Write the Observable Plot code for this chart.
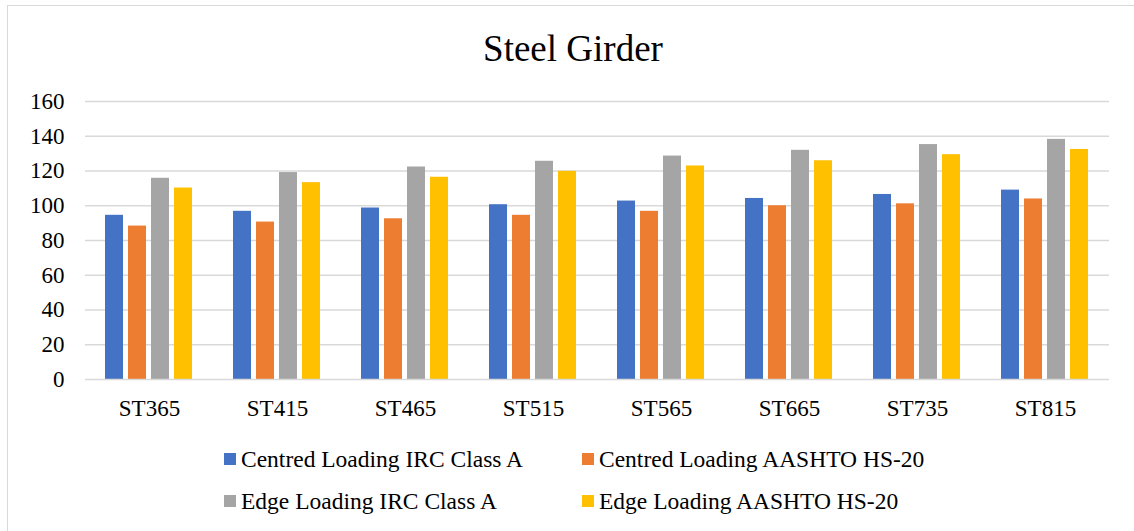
<!DOCTYPE html>
<html>
<head>
<meta charset="utf-8">
<script src="https://cdn.jsdelivr.net/npm/d3@7"></script>
<script src="https://cdn.jsdelivr.net/npm/@observablehq/plot@0.6"></script>
<style>
  html, body { margin: 0; padding: 0; background: #fff; width: 1134px; height: 531px; overflow: hidden; }
  body { position: relative; font-family: "Liberation Serif", "Times New Roman", serif; color: #000; }
  #frame { position: absolute; left: 7px; top: 5px; width: 1200px; height: 600px; border: 1px solid #d9d9d9; box-sizing: border-box; }
  #title { position: absolute; left: 0; width: 1146px; top: 27px; text-align: center; font-size: 37px; line-height: 44px; }
  #chart { position: absolute; left: 0; top: 85px; }
  .leg { position: absolute; font-size: 23.5px; line-height: 26px; white-space: nowrap; display: flex; align-items: center; }
  .sw { width: 12px; height: 12px; display: inline-block; margin-right: 5px; }
</style>
</head>
<body>
<div id="frame"></div>
<div id="title">Steel Girder</div>
<div id="chart"></div>
<div id="legend"></div>
<script>
const categories = ["ST365", "ST415", "ST465", "ST515", "ST565", "ST665", "ST735", "ST815"];
const seriesNames = [
  "Centred Loading IRC Class A",
  "Centred Loading AASHTO HS-20",
  "Edge Loading IRC Class A",
  "Edge Loading AASHTO HS-20"
];
const centredIRC    = [94.5, 96.8, 98.7, 100.6, 102.7, 104.2, 106.5, 109.0];
const centredAASHTO = [88.3, 90.6, 92.5, 94.5, 96.8, 100.0, 101.1, 103.9];
const edgeIRC       = [115.8, 119.1, 122.3, 125.6, 128.6, 131.9, 135.2, 138.2];
const edgeAASHTO    = [110.2, 113.3, 116.4, 119.8, 122.9, 125.9, 129.4, 132.4];
const colors = ["#4472C4", "#ED7D31", "#A5A5A5", "#FFC000"];
const yTicks = [0, 20, 40, 60, 80, 100, 120, 140, 160];

const seriesValues = [centredIRC, centredAASHTO, edgeIRC, edgeAASHTO];
const data = [];
categories.forEach((c, i) => {
  seriesNames.forEach((s, j) => data.push({cat: c, series: s, value: seriesValues[j][i]}));
});

const chart = Plot.plot({
  width: 1134,
  height: 340,
  marginLeft: 81,
  marginRight: 22,
  marginTop: 16,
  marginBottom: 46,
  style: {fontFamily: "'Liberation Serif', 'Times New Roman', serif", fontSize: "23px", color: "#000", background: "transparent"},
  fx: {domain: categories, padding: 0, label: null, axis: "bottom", tickSize: 0, tickPadding: 20},
  x: {domain: seriesNames, paddingInner: 0.21, paddingOuter: 0.855, axis: null},
  y: {domain: [0, 160], ticks: yTicks, label: null, tickSize: 0, tickPadding: 21, tickFormat: d => String(d)},
  color: {domain: seriesNames, range: colors},
  marks: [
    Plot.ruleY(yTicks.filter(d => d > 0), {stroke: "#d9d9d9", strokeWidth: 1.5}),
    Plot.barY(data, {fx: "cat", x: "series", y: "value", fill: "series"}),
    Plot.ruleY([0], {stroke: "#d9d9d9", strokeWidth: 1.5})
  ]
});
document.getElementById("chart").appendChild(chart);

const legendPos = [[224, 459], [582, 459], [224, 501], [582, 501]];
const legend = document.getElementById("legend");
seriesNames.forEach((s, i) => {
  const d = document.createElement("div");
  d.className = "leg";
  d.style.left = legendPos[i][0] + "px";
  d.style.top = (legendPos[i][1] - 13) + "px";
  const sw = document.createElement("span");
  sw.className = "sw";
  sw.style.background = colors[i];
  d.appendChild(sw);
  d.appendChild(document.createTextNode(s));
  legend.appendChild(d);
});
</script>
</body>
</html>
